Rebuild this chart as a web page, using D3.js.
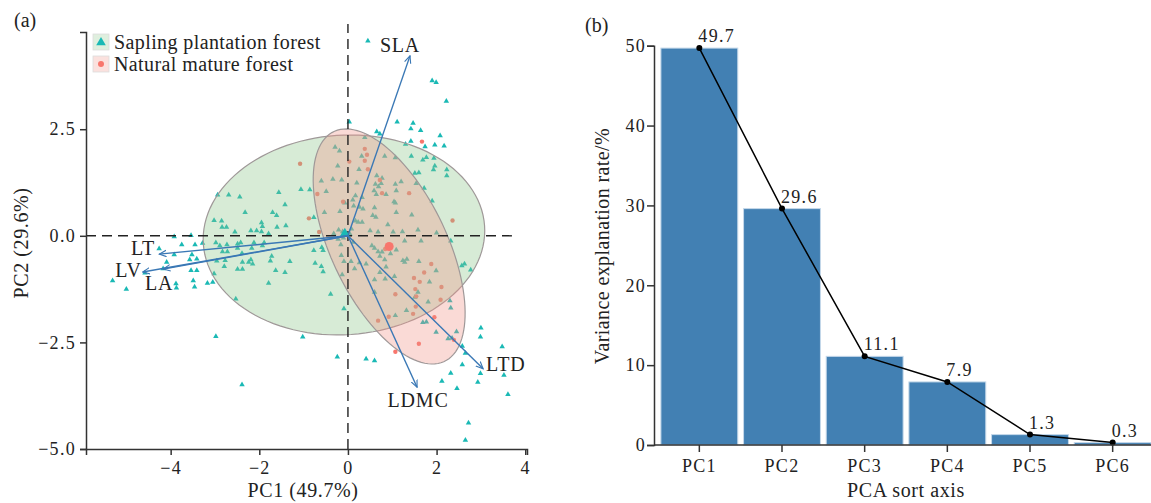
<!DOCTYPE html>
<html>
<head>
<meta charset="utf-8">
<script src="https://cdn.jsdelivr.net/npm/d3@7"></script>
<style>
    body { margin: 0; background: #fff; }
    svg text { font-family: "Liberation Serif", "Times New Roman", serif; fill: #222; }
</style>
</head>
<body>
<div id="chart"></div>
<script>
// ---- panel (a): PCA scores ----
let saplingPoints = [
    [-2.94,0.96],[-2.69,0.96],[-2.44,0.91],[-1.56,1.02],[-1.06,1.09],[-1.42,0.73],[-2.32,0.55],[-1.70,0.55],
    [-1.61,0.48],[-3.02,0.36],[-2.85,0.35],[-2.84,0.20],[-2.74,0.20],[-2.55,0.09],[-2.19,0.12],[-2.06,0.12],
    [-1.95,0.31],[-1.93,0.22],[-1.95,0.10],[-1.60,0.20],[-1.40,0.24],[-1.79,0.05],[-3.92,-0.02],[-3.54,0.01],
    [0.45,4.57],[1.90,3.64],[1.99,3.60],[2.22,3.16],[0.03,2.67],[1.11,2.67],[1.47,2.64],[1.42,2.51],
    [1.64,2.47],[2.08,2.35],[0.65,2.44],[0.72,2.39],[0.38,2.31],[1.30,2.15],[1.42,2.22],[1.74,2.09],
    [1.96,2.13],[2.17,2.11],[-0.29,2.08],[-0.19,1.99],[0.31,1.87],[0.83,1.87],[1.07,1.83],[1.43,1.87],
    [1.77,1.84],[1.94,1.82],[1.69,1.78],[1.96,1.64],[1.93,1.55],[2.23,1.55],[2.23,1.41],[1.51,1.47],
    [1.60,1.48],[-0.23,1.64],[0.25,1.56],[0.65,1.41],[0.77,1.35],[-0.60,1.29],[-0.34,1.33],[-0.14,1.31],
    [0.20,1.24],[0.62,1.21],[0.69,1.15],[0.75,1.23],[1.07,1.21],[1.20,1.27],[1.54,1.23],[1.72,1.12],
    [-0.49,1.04],[0.59,1.06],[0.64,0.97],[0.86,0.97],[1.09,1.06],[0.17,0.94],[0.11,0.84],[0.32,0.90],
    [-0.07,0.77],[1.04,0.80],[1.07,0.77],[1.90,0.82],[0.13,0.70],[0.26,0.67],[0.34,0.63],[0.60,0.66],
    [-0.53,0.55],[-0.18,0.57],[0.56,0.48],[0.63,0.44],[1.09,0.55],[1.44,0.49],[0.17,0.35],[0.23,0.32],
    [0.32,0.32],[0.90,0.26],[-0.21,0.14],[-0.12,0.10],[0.08,0.16],[0.50,0.12],[0.68,0.09],[1.02,0.09],
    [1.23,0.10],[1.58,0.14],[2.00,0.07],[-0.77,0.43],[-0.86,1.08],
    [-4.26,-0.30],[-3.75,-0.21],[-3.45,-0.21],[-3.28,-0.17],[-2.98,-0.16],[-2.89,-0.23],[-2.73,-0.21],[-2.49,-0.19],
    [-2.42,-0.16],[-2.12,-0.16],[-1.89,-0.16],[-2.83,-0.37],[-2.72,-0.37],[-2.49,-0.29],[-2.17,-0.29],[-2.39,-0.41],
    [-1.93,-0.23],[-3.92,-0.44],[-3.52,-0.44],[-3.41,-0.54],[-3.57,-0.56],[-4.09,-0.62],[-2.96,-0.59],[-2.77,-0.58],
    [-2.38,-0.62],[-2.24,-0.62],[-2.19,-0.56],[-2.15,-0.66],[-1.72,-0.48],[-1.75,-0.59],[-1.31,-0.60],[-2.79,-0.72],
    [-2.49,-0.78],[-2.38,-0.78],[-3.54,-0.81],[-3.41,-0.81],[-3.02,-0.89],[-1.63,-0.81],[-1.42,-0.86],[-5.31,-1.05],
    [-5.00,-1.25],[-4.17,-0.77],[-3.88,-1.12],[-3.87,-1.22],[-3.49,-1.05],[-3.46,-1.20],[-3.17,-1.11],[-3.05,-1.09],
    [-1.79,-1.11],[-2.53,-1.48],[-2.98,-2.36],[-1.02,-2.37],[-2.39,-3.49],[-4.58,-0.87],
    [-0.77,-0.34],[-0.59,-0.27],[-0.56,-0.34],[-0.74,-0.64],[-0.60,-0.72],[-0.56,-0.84],[-0.39,-1.37],[-0.09,-1.71],
    [-0.16,-0.21],[-0.15,-0.46],[-0.09,-0.60],[0.07,-0.60],[0.15,-0.77],[-0.13,-0.91],[0.26,-0.63],[0.41,-0.66],
    [0.54,-0.23],[0.60,-0.29],[0.68,-0.37],[0.77,-0.38],[0.72,-0.48],[0.83,-0.56],[1.09,-0.33],[0.96,-0.42],
    [0.86,-0.73],[0.72,-0.86],[0.84,-1.01],[0.60,-1.03],[1.05,-0.95],[1.24,-0.58],[1.33,-0.55],[1.28,-0.62],
    [1.60,-0.60],[1.99,-0.82],[1.84,-1.08],[1.28,-0.12],[1.65,-0.12],[2.32,-0.12],[2.57,-0.70],[2.63,-0.66],
    [2.77,-0.80],[1.58,-1.32],[1.51,-1.44],[0.60,-1.32],[1.32,-1.75],[1.07,-1.87],[1.81,-1.55],[1.77,-2.02],
    [1.69,-2.03],[2.30,-1.52],[2.32,-1.69],[1.99,-2.26],[2.45,-2.25],[2.26,-2.41],[2.35,-2.40],[3.00,-2.16],
    [2.99,-2.37],[3.48,-2.60],[2.58,-2.59],[2.65,-2.75],[2.58,-3.02],[2.32,-3.22],[2.12,-3.41],[2.46,-3.58],
    [2.93,-3.43],[2.99,-3.23],[3.52,-3.27],[3.61,-3.72],[2.72,-4.39],[2.65,-4.79],[-0.24,-2.84],[0.41,-2.89],
    [0.60,-2.93],[-0.10,-0.05],[0.05,0.03],[-0.22,-0.08],[-0.32,0.05],[0.12,-0.15]
];
let naturalPoints = [
    [-1.08,1.69],[0.38,2.04],[0.43,1.90],[0.03,1.74],[0.38,1.76],[0.45,1.56],[0.72,1.31],[0.77,1.00],
    [-0.69,0.98],[1.38,1.00],[-0.11,0.80],[1.67,2.21],[2.36,0.36],[-0.88,0.41],[-0.65,0.09],[0.84,-0.31],
    [1.88,-0.66],[1.72,-0.86],[1.49,-0.99],[1.62,-1.08],[2.11,-1.20],[1.52,-1.25],[1.07,-1.37],[2.09,-1.50],
    [1.54,-1.42],[1.53,-1.66],[1.47,-1.83],[0.92,-1.90],[0.68,-1.99],[1.95,-1.91],[2.39,-2.44],[1.60,-2.53],
    [1.07,-2.72]
];
let groupNames = ["Sapling plantation forest", "Natural mature forest"];
let centroids = [[-0.07, 0.06], [0.93, -0.25]];
// ellipse: centre x, centre y, semi-axis a, semi-axis b, angle (deg)
let ellipseSapling = [-0.09, 0.02, 3.18, 2.34, 4];
let ellipseNatural = [0.93, -0.25, 2.97, 1.31, -65.5];

let traits = ["SLA", "LT", "LV", "LA", "LTD", "LDMC"];
let loadX = [1.40, -4.26, -4.63, -4.17, 3.05, 1.56];
let loadY = [4.22, -0.43, -0.85, -0.78, -3.12, -3.55];

let pcaXTicks = [-4, -2, 0, 2, 4];
let pcaYTicks = [-5, -2.5, 0, 2.5];

// ---- panel (b): explained variance ----
let pcNames = ["PC1", "PC2", "PC3", "PC4", "PC5", "PC6"];
let varRates = [49.7, 29.6, 11.1, 7.9, 1.3, 0.3];
let varTicks = [0, 10, 20, 30, 40, 50];

function init() {
    let width = 1151;
    let height = 503;
    let svg = d3.select("#chart")
        .append("svg")
        .attr("width", width)
        .attr("height", height);

    let teal = "#1ab9b5";
    let red = "#f8766d";
    let arrowCol = "#3a78b5";
    let axisCol = "#333";
    let serif = "'Liberation Serif', 'Times New Roman', serif";

    // ================= panel (a) =================
    let x = d3.scaleLinear().domain([-5.91, 4.04]).range([86, 527]);
    let y = d3.scaleLinear().domain([-5, 4.78]).range([449, 32]);

    let defs = svg.append("defs");
    defs.append("marker")
        .attr("id", "arr")
        .attr("viewBox", "0 -5 10 10")
        .attr("refX", 9)
        .attr("refY", 0)
        .attr("markerUnits", "userSpaceOnUse")
        .attr("markerWidth", 8)
        .attr("markerHeight", 8)
        .attr("orient", "auto")
        .append("path")
        .attr("d", "M0,-4L9,0L0,4")
        .attr("fill", "none")
        .attr("stroke", arrowCol)
        .attr("stroke-width", 1.4);

    // points (drawn under the ellipses)
    svg.append("g").selectAll("path")
        .data(saplingPoints)
        .enter().append("path")
        .attr("d", d3.symbol(d3.symbolTriangle).size(13))
        .attr("transform", d => "translate(" + x(d[0]) + "," + y(d[1]) + ")")
        .attr("fill", teal);
    svg.append("g").selectAll("circle")
        .data(naturalPoints)
        .enter().append("circle")
        .attr("cx", d => x(d[0]))
        .attr("cy", d => y(d[1]))
        .attr("r", 2.2)
        .attr("fill", red);

    // confidence ellipses
    function ellipsePts(e) {
        let phi = e[4] * Math.PI / 180;
        return d3.range(0, 361, 3).map(function (deg) {
            let t = deg * Math.PI / 180;
            return [
                e[0] + e[2] * Math.cos(t) * Math.cos(phi) - e[3] * Math.sin(t) * Math.sin(phi),
                e[1] + e[2] * Math.cos(t) * Math.sin(phi) + e[3] * Math.sin(t) * Math.cos(phi)
            ];
        });
    }
    let ell = d3.line().x(d => x(d[0])).y(d => y(d[1])).curve(d3.curveLinearClosed);
    svg.append("path")
        .attr("d", ell(ellipsePts(ellipseSapling)))
        .attr("fill", "#8cc68a").attr("fill-opacity", 0.35)
        .attr("stroke", "#9f9898").attr("stroke-width", 1.2);
    svg.append("path")
        .attr("d", ell(ellipsePts(ellipseNatural)))
        .attr("fill", "#f1958a").attr("fill-opacity", 0.35)
        .attr("stroke", "#9f9898").attr("stroke-width", 1.2);

    // reference lines
    svg.append("line")
        .attr("x1", x(-5.91)).attr("x2", x(3.7))
        .attr("y1", y(0)).attr("y2", y(0))
        .attr("stroke", "#222").attr("stroke-width", 1.4).attr("stroke-dasharray", "10,6");
    svg.append("line")
        .attr("x1", x(0)).attr("x2", x(0))
        .attr("y1", y(-5)).attr("y2", y(4.97))
        .attr("stroke", "#222").attr("stroke-width", 1.4).attr("stroke-dasharray", "10,6");

    // group centroids
    svg.append("path")
        .attr("d", d3.symbol(d3.symbolTriangle).size(40))
        .attr("transform", "translate(" + x(centroids[0][0]) + "," + y(centroids[0][1]) + ")")
        .attr("fill", teal);
    svg.append("circle")
        .attr("cx", x(centroids[1][0])).attr("cy", y(centroids[1][1]))
        .attr("r", 4.5).attr("fill", red);

    // loading arrows
    svg.append("g").selectAll("line")
        .data(traits)
        .enter().append("line")
        .attr("x1", x(0)).attr("y1", y(0))
        .attr("x2", (d, i) => x(loadX[i]))
        .attr("y2", (d, i) => y(loadY[i]))
        .attr("stroke", arrowCol)
        .attr("stroke-width", 1.4)
        .attr("marker-end", "url(#arr)");

    let labelOffset = {
        SLA: [-10, -4, "middle"], LT: [-4, 1, "end"], LV: [-1, 5, "end"],
        LA: [-4, 21, "middle"], LTD: [3, 2, "start"], LDMC: [1, 20, "middle"]
    };
    svg.append("g").selectAll("text")
        .data(traits)
        .enter().append("text")
        .attr("x", (d, i) => x(loadX[i]) + labelOffset[d][0])
        .attr("y", (d, i) => y(loadY[i]) + labelOffset[d][1])
        .attr("text-anchor", d => labelOffset[d][2])
        .style("font-size", "20px")
        .style("letter-spacing", "0.8px")
        .text(d => d);

    // axes
    let gx = svg.append("g")
        .attr("transform", "translate(0," + y(-5) + ")")
        .call(d3.axisBottom(x).tickValues(pcaXTicks).tickSizeOuter(0).tickSize(6).tickPadding(6));
    let gy = svg.append("g")
        .attr("transform", "translate(" + x(-5.91) + ",0)")
        .call(d3.axisLeft(y).tickValues(pcaYTicks).tickFormat(d3.format(".1f"))
            .tickSizeOuter(0).tickSize(6).tickPadding(4));
    [gx, gy].forEach(function (g) {
        g.attr("font-family", serif).attr("font-size", 18);
        g.selectAll("text").attr("fill", "#222").style("letter-spacing", "1.3px");
        g.selectAll("path, line").attr("stroke", axisCol).attr("stroke-width", 1.5);
    });

    svg.append("text")
        .attr("x", 303).attr("y", 497)
        .attr("text-anchor", "middle")
        .style("font-size", "20px")
        .style("letter-spacing", "0.6px")
        .text("PC1 (49.7%)");
    svg.append("text")
        .attr("transform", "translate(28,243) rotate(-90)")
        .attr("text-anchor", "middle")
        .style("font-size", "20px")
        .style("letter-spacing", "0.6px")
        .text("PC2 (29.6%)");
    svg.append("text")
        .attr("x", 14).attr("y", 27)
        .style("font-size", "20px")
        .text("(a)");

    // legend
    let legend = svg.append("g");
    let keyFill = ["#8cc68a", "#f1958a"];
    groupNames.forEach(function (name, i) {
        let ky = 34 + i * 22;
        legend.append("rect")
            .attr("x", 93).attr("y", ky).attr("width", 16).attr("height", 16)
            .attr("fill", keyFill[i]).attr("fill-opacity", 0.28)
            .attr("stroke", "#ddd").attr("stroke-width", 0.8);
        if (i === 0) {
            legend.append("path")
                .attr("d", d3.symbol(d3.symbolTriangle).size(40))
                .attr("transform", "translate(101," + (ky + 8.5) + ")")
                .attr("fill", teal);
        } else {
            legend.append("circle")
                .attr("cx", 101).attr("cy", ky + 8)
                .attr("r", 3).attr("fill", red);
        }
        legend.append("text")
            .attr("x", 114).attr("y", ky + 14.5)
            .style("font-size", "20px")
            .style("letter-spacing", "0.4px")
            .text(name);
    });

    // ================= panel (b) =================
    let xb = d3.scaleBand().domain(pcNames).range([658, 1154]).paddingInner(0.07).paddingOuter(0.035);
    let yb = d3.scaleLinear().domain([0, 50]).range([445, 45.7]);

    svg.append("g").selectAll("rect")
        .data(varRates)
        .enter().append("rect")
        .attr("x", (d, i) => xb(pcNames[i]))
        .attr("y", d => yb(d))
        .attr("width", xb.bandwidth())
        .attr("height", d => yb(0) - yb(d))
        .attr("fill", "#4280b3")
        .attr("stroke", "#c5d8ea")
        .attr("stroke-width", 1);

    let line = d3.line()
        .x((d, i) => xb(pcNames[i]) + xb.bandwidth() / 2)
        .y(d => yb(d));
    svg.append("path")
        .datum(varRates)
        .attr("fill", "none")
        .attr("stroke", "#000")
        .attr("stroke-width", 1.5)
        .attr("d", line);
    svg.append("g").selectAll("circle")
        .data(varRates)
        .enter().append("circle")
        .attr("cx", (d, i) => xb(pcNames[i]) + xb.bandwidth() / 2)
        .attr("cy", d => yb(d))
        .attr("r", 3)
        .attr("fill", "#000");
    svg.append("g").selectAll("text")
        .data(varRates)
        .enter().append("text")
        .attr("x", (d, i) => xb(pcNames[i]) + xb.bandwidth() / 2 - 1)
        .attr("y", d => yb(d) - 6)
        .style("font-size", "18px")
        .style("letter-spacing", "1.3px")
        .text(d => d3.format(".1f")(d));

    let gxb = svg.append("g")
        .attr("transform", "translate(0," + yb(0) + ")")
        .call(d3.axisBottom(xb).tickSizeOuter(0).tickSize(7).tickPadding(7));
    gxb.select(".domain").remove();
    gxb.append("line")
        .attr("x1", 654).attr("x2", width)
        .attr("y1", 0).attr("y2", 0);
    let gyb = svg.append("g")
        .attr("transform", "translate(654,0)")
        .call(d3.axisLeft(yb).tickValues(varTicks).tickSizeOuter(0).tickSize(7).tickPadding(1));
    [gxb, gyb].forEach(function (g) {
        g.attr("font-family", serif).attr("font-size", 18);
        g.selectAll("text").attr("fill", "#222").style("letter-spacing", "1.3px");
        g.selectAll("path, line").attr("stroke", axisCol).attr("stroke-width", 1.5);
    });

    svg.append("text")
        .attr("x", 906).attr("y", 497)
        .attr("text-anchor", "middle")
        .style("font-size", "20px")
        .style("letter-spacing", "0.6px")
        .text("PCA sort axis");
    svg.append("text")
        .attr("transform", "translate(609,246) rotate(-90)")
        .attr("text-anchor", "middle")
        .style("font-size", "20px")
        .style("letter-spacing", "0.4px")
        .text("Variance explanation rate/%");
    svg.append("text")
        .attr("x", 585).attr("y", 32)
        .style("font-size", "20px")
        .text("(b)");
}

window.addEventListener('load', init);
</script>
</body>
</html>
